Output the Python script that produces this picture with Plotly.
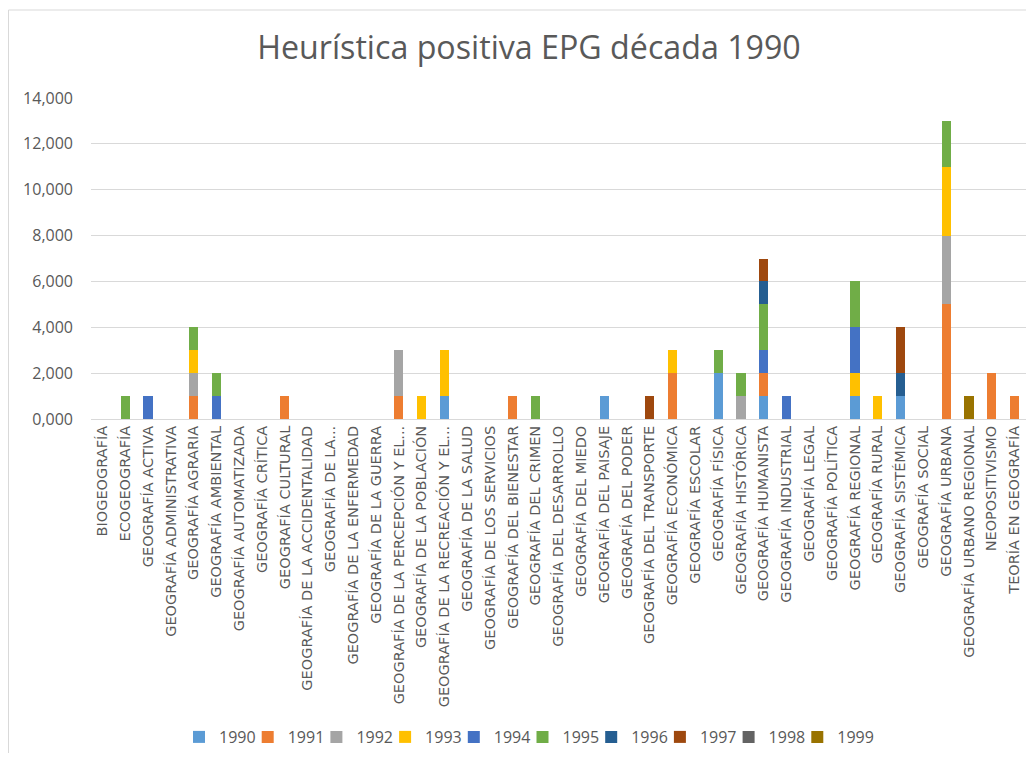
import plotly.graph_objects as go

categories = [
    "BIOGEOGRAFÍA", "ECOGEOGRAFÍA", "GEOGRAFÍA ACTIVA", "GEOGRAFÍA ADMINISTRATIVA",
    "GEOGRAFÍA AGRARIA", "GEOGRAFÍA AMBIENTAL", "GEOGRAFÍA AUTOMATIZADA", "GEOGRAFÍA CRÍTICA",
    "GEOGRAFÍA CULTURAL", "GEOGRAFÍA DE LA ACCIDENTALIDAD", "GEOGRAFÍA DE LA...",
    "GEOGRAFÍA DE LA ENFERMEDAD", "GEOGRAFÍA DE LA GUERRA", "GEOGRAFÍA DE LA PERCEPCIÓN Y EL...",
    "GEOGRAFÍA DE LA POBLACIÓN", "GEOGRAFÍA DE LA RECREACIÓN Y EL...", "GEOGRAFÍA DE LA SALUD",
    "GEOGRAFÍA DE LOS SERVICIOS", "GEOGRAFÍA DEL BIENESTAR", "GEOGRAFÍA DEL CRIMEN",
    "GEOGRAFÍA DEL DESARROLLO", "GEOGRAFÍA DEL MIEDO", "GEOGRAFÍA DEL PAISAJE",
    "GEOGRAFÍA DEL PODER", "GEOGRAFÍA DEL TRANSPORTE", "GEOGRAFÍA ECONÓMICA",
    "GEOGRAFÍA ESCOLAR", "GEOGRAFÍA FÍSICA", "GEOGRAFÍA HISTÓRICA", "GEOGRAFÍA HUMANISTA",
    "GEOGRAFÍA INDUSTRIAL", "GEOGRAFÍA LEGAL", "GEOGRAFÍA POLÍTICA", "GEOGRAFÍA REGIONAL",
    "GEOGRAFÍA RURAL", "GEOGRAFÍA SISTÉMICA", "GEOGRAFÍA SOCIAL", "GEOGRAFÍA URBANA",
    "GEOGRAFÍA URBANO REGIONAL", "NEOPOSITIVISMO", "TEORÍA EN GEOGRAFÍA",
]

years = ["1990", "1991", "1992", "1993", "1994", "1995", "1996", "1997", "1998", "1999"]

v1990 = [0,0,0,0,0,0,0,0,0,0, 0,0,0,0,0,1,0,0,0,0, 0,0,1,0,0,0,0,2,0,1, 0,0,0,1,0,1,0,0,0,0, 0]
v1991 = [0,0,0,0,1,0,0,0,1,0, 0,0,0,1,0,0,0,0,1,0, 0,0,0,0,0,2,0,0,0,1, 0,0,0,0,0,0,0,5,0,2, 1]
v1992 = [0,0,0,0,1,0,0,0,0,0, 0,0,0,2,0,0,0,0,0,0, 0,0,0,0,0,0,0,0,1,0, 0,0,0,0,0,0,0,3,0,0, 0]
v1993 = [0,0,0,0,1,0,0,0,0,0, 0,0,0,0,1,2,0,0,0,0, 0,0,0,0,0,1,0,0,0,0, 0,0,0,1,1,0,0,3,0,0, 0]
v1994 = [0,0,1,0,0,1,0,0,0,0, 0,0,0,0,0,0,0,0,0,0, 0,0,0,0,0,0,0,0,0,1, 1,0,0,2,0,0,0,0,0,0, 0]
v1995 = [0,1,0,0,1,1,0,0,0,0, 0,0,0,0,0,0,0,0,0,1, 0,0,0,0,0,0,0,1,1,2, 0,0,0,2,0,0,0,2,0,0, 0]
v1996 = [0,0,0,0,0,0,0,0,0,0, 0,0,0,0,0,0,0,0,0,0, 0,0,0,0,0,0,0,0,0,1, 0,0,0,0,0,1,0,0,0,0, 0]
v1997 = [0,0,0,0,0,0,0,0,0,0, 0,0,0,0,0,0,0,0,0,0, 0,0,0,0,1,0,0,0,0,1, 0,0,0,0,0,2,0,0,0,0, 0]
v1998 = [0,0,0,0,0,0,0,0,0,0, 0,0,0,0,0,0,0,0,0,0, 0,0,0,0,0,0,0,0,0,0, 0,0,0,0,0,0,0,0,0,0, 0]
v1999 = [0,0,0,0,0,0,0,0,0,0, 0,0,0,0,0,0,0,0,0,0, 0,0,0,0,0,0,0,0,0,0, 0,0,0,0,0,0,0,0,1,0, 0]

series = [v1990, v1991, v1992, v1993, v1994, v1995, v1996, v1997, v1998, v1999]
colors = ["#5B9BD5", "#ED7D31", "#A5A5A5", "#FFC000", "#4472C4",
          "#70AD47", "#255E91", "#9E480E", "#636363", "#997300"]

y_ticks = [0, 2, 4, 6, 8, 10, 12, 14]

# plot geometry (figure pixels)
FIG_W, FIG_H = 1018, 745
M_L, M_R, M_T, M_B = 83, 0, 90, 334
PLOT_W = FIG_W - M_L - M_R
PLOT_H = FIG_H - M_T - M_B

font_family = "Open Sans, Liberation Sans, sans-serif"

fig = go.Figure()
legend_layouts = {}
for i, (name, vals, col) in enumerate(zip(years, series, colors)):
    lg = "legend" if i == 0 else f"legend{i + 1}"
    fig.add_trace(go.Bar(x=categories, y=vals, name=name, marker_color=col,
                         marker_line_width=0, legend=lg))
    left_px = 171 + 68.7 * i
    legend_layouts[lg] = dict(
        orientation="h", x=(left_px - M_L) / PLOT_W, xanchor="left",
        y=(FIG_H - M_B - 729) / PLOT_H, yanchor="middle",
        bgcolor="rgba(0,0,0,0)",
        font=dict(size=16, color="#595959", family=font_family),
    )

fig.update_layout(
    barmode="stack",
    bargap=0.6,
    width=FIG_W, height=FIG_H,
    paper_bgcolor="white", plot_bgcolor="white",
    separators=",.",
    font=dict(family=font_family, color="#595959", size=13),
    title=dict(text="Heurística positiva EPG década 1990", x=521 / FIG_W, xanchor="center",
               y=1 - 40 / FIG_H, yanchor="middle",
               font=dict(size=32.2, color="#595959", family=font_family)),
    margin=dict(l=M_L, r=M_R, t=M_T, b=M_B, autoexpand=False),
    showlegend=True,
    xaxis=dict(type="category", range=[-0.5, len(categories) - 0.5], tickangle=-90,
               showgrid=False, showline=True, linecolor="#d9d9d9", ticks="",
               tickfont=dict(size=14.5, color="#595959", family="DejaVu Sans"),
               automargin=False, fixedrange=True),
    yaxis=dict(range=[0, 14], tickvals=y_ticks, tickformat=".3f", showgrid=True,
               gridcolor="#d9d9d9", gridwidth=1, zeroline=False, showline=False,
               ticks="", tickfont=dict(size=16, color="#595959"), automargin=False,
               ticklabelstandoff=17),
    shapes=[dict(type="rect", xref="paper", yref="paper",
                 x0=(0.5 - M_L) / PLOT_W, x1=2, y0=-3, y1=(FIG_H - M_B - 2) / PLOT_H,
                 line=dict(color="#d9d9d9", width=1), fillcolor="rgba(0,0,0,0)",
                 layer="below")],
    **legend_layouts,
)

fig.write_html("out.html")
